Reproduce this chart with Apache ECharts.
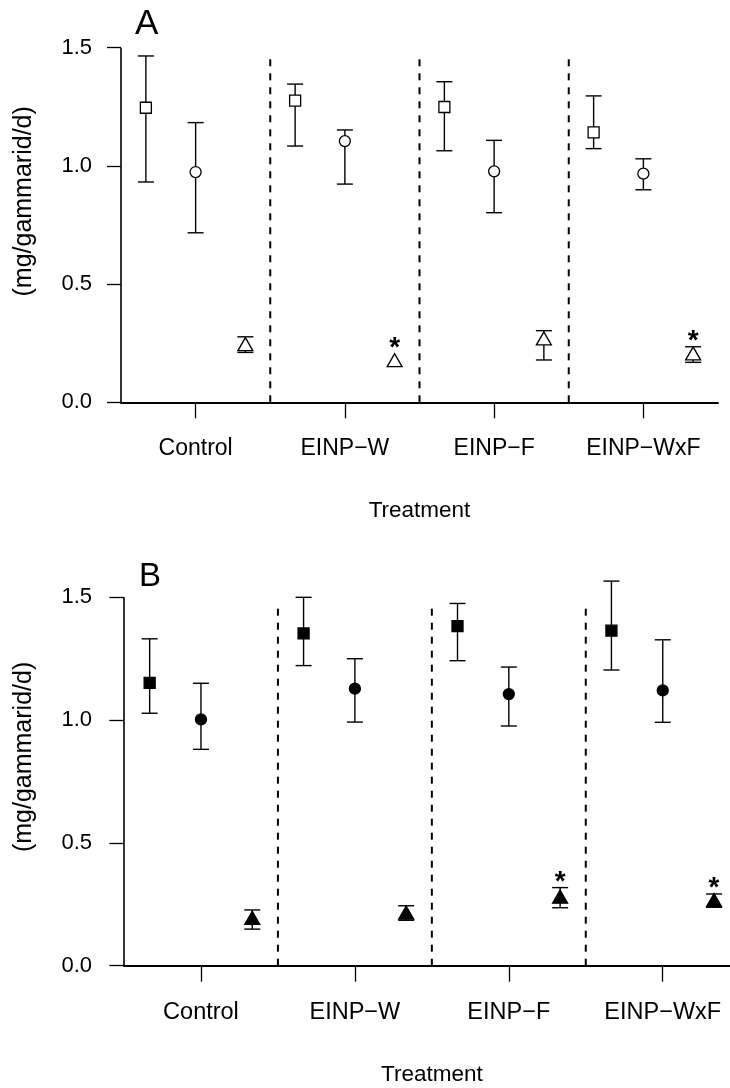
<!DOCTYPE html>
<html>
<head>
<meta charset="utf-8">
<title>Treatment effects</title>
<script src="https://cdn.jsdelivr.net/npm/echarts@6/dist/echarts.min.js"></script>
<style>
  html, body { margin: 0; padding: 0; background: #fff; }
  #chart { width: 730px; height: 1088px; }
</style>
</head>
<body>
<div id="chart"></div>
<script>
// ---- data ----
const treatments = ['Control', 'EINP\u2212W', 'EINP\u2212F', 'EINP\u2212WxF'];
const yTicks = [0, 0.5, 1.0, 1.5];

// Panel A (open symbols): mean with lower / upper error limits
const aSquareMean = [1.246, 1.276, 1.249, 1.142];
const aSquareLow  = [0.932, 1.084, 1.064, 1.073];
const aSquareHigh = [1.465, 1.346, 1.356, 1.296];
const aCircleMean = [0.974, 1.105, 0.977, 0.967];
const aCircleLow  = [0.717, 0.923, 0.802, 0.899];
const aCircleHigh = [1.183, 1.152, 1.108, 1.030];
const aTriMean    = [0.246, 0.178, 0.270, 0.207];
const aTriLow     = [0.211, 0.178, 0.179, 0.169];
const aTriHigh    = [0.277, 0.178, 0.303, 0.235];
const aSignificant = [false, true, false, true];

// Panel B (filled symbols)
const bSquareMean = [1.152, 1.353, 1.383, 1.364];
const bSquareLow  = [1.028, 1.222, 1.242, 1.204];
const bSquareHigh = [1.331, 1.500, 1.475, 1.566];
const bCircleMean = [1.003, 1.128, 1.106, 1.121];
const bCircleLow  = [0.881, 0.992, 0.976, 0.991];
const bCircleHigh = [1.150, 1.250, 1.216, 1.327];
const bTriMean    = [0.195, 0.216, 0.281, 0.267];
const bTriLow     = [0.149, 0.185, 0.236, 0.238];
const bTriHigh    = [0.227, 0.244, 0.318, 0.292];
const bSignificant = [false, false, true, true];

// ---- layout helpers ----
const FONT = '"Liberation Sans", Arial, Helvetica, sans-serif';
const INK = '#000';
const slotOffset = [-1 / 3, 0, 1 / 3];   // three measures within each treatment band
const yMax = 1.7;
const dividerTop = 1.475;

function xPos(group, slot) { return group + 0.5 + slotOffset[slot]; }

function errData(mean, low, high, slot) {
  return mean.map((m, i) => [xPos(i, slot), low[i], high[i], m]);
}
function ptData(mean, slot) {
  return mean.map((m, i) => [xPos(i, slot), m]);
}

function renderErrorBar(params, api) {
  const x = api.value(0);
  const lo = api.coord([x, api.value(1)]);
  const hi = api.coord([x, api.value(2)]);
  // zero-length intervals are not drawn
  if (Math.abs(lo[1] - hi[1]) < 1) return null;
  const half = 8;
  const st = { stroke: INK, lineWidth: 1.4, fill: null };
  return {
    type: 'group',
    children: [
      { type: 'line', shape: { x1: lo[0], y1: lo[1], x2: hi[0], y2: hi[1] }, style: st },
      { type: 'line', shape: { x1: lo[0] - half, y1: lo[1], x2: lo[0] + half, y2: lo[1] }, style: st },
      { type: 'line', shape: { x1: hi[0] - half, y1: hi[1], x2: hi[0] + half, y2: hi[1] }, style: st }
    ]
  };
}

function renderStar(params, api) {
  const x = api.value(0);
  const c = api.coord([x, api.value(1)]);
  const hi = api.coord([x, api.value(2)]);
  const fs = 28;
  const inkCenter = Math.min(hi[1], c[1] - 7) - 11;
  return {
    type: 'text',
    style: {
      text: '*', x: c[0], y: inkCenter + 0.22 * fs,
      align: 'center', verticalAlign: 'middle',
      fontSize: fs, fontWeight: 'bold', fontFamily: FONT, fill: INK
    }
  };
}

function renderDivider(params, api) {
  const b = api.value(0);
  const p0 = api.coord([b, 0]);
  const p1 = api.coord([b, dividerTop]);
  return {
    type: 'line',
    shape: { x1: p0[0], y1: p0[1], x2: p1[0], y2: p1[1] },
    style: { stroke: INK, lineWidth: 2, lineDash: [7, 7], fill: null }
  };
}

function renderYAxisLine(params, api) {
  const p0 = api.coord([0, api.value(0)]);
  const p1 = api.coord([0, api.value(1)]);
  return {
    type: 'line',
    shape: { x1: p0[0], y1: p0[1], x2: p1[0], y2: p1[1] },
    style: { stroke: INK, lineWidth: 1.6, fill: null }
  };
}

function makeXAxis(gridIndex, nameGap, labelSize) {
  const centers = treatments.map((t, i) => i + 0.5);
  return {
    gridIndex, type: 'value', min: 0, max: treatments.length,
    name: 'Treatment', nameLocation: 'middle', nameGap,
    nameTextStyle: { fontSize: 22.5, fontFamily: FONT, color: INK },
    axisLine: { show: true, onZero: false, lineStyle: { color: INK, width: 2 } },
    axisTick: { show: true, customValues: centers, length: 16, lineStyle: { color: INK, width: 1.3 } },
    axisLabel: {
      show: true, customValues: centers, margin: 35,
      fontSize: labelSize, fontFamily: FONT, color: INK,
      formatter: v => treatments[Math.round(v - 0.5)]
    },
    splitLine: { show: false }
  };
}

function makeYAxis(gridIndex, nameGap, margin, tickLen) {
  return {
    gridIndex, type: 'value', min: 0, max: yMax,
    name: '(mg/gammarid/d)', nameLocation: 'middle', nameGap,
    nameTextStyle: { fontSize: 25, fontFamily: FONT, color: INK },
    axisLine: { show: false },
    axisTick: { show: true, customValues: yTicks, length: tickLen, lineStyle: { color: INK, width: 1.3 } },
    axisLabel: {
      show: true, customValues: yTicks, margin,
      fontSize: 22, fontFamily: FONT, color: INK,
      formatter: v => v.toFixed(1)
    },
    splitLine: { show: false }
  };
}

function panelSeries(idx, sq, ci, tr, sig, filled) {
  const fill = filled ? INK : '#fff';
  const markerStyle = { color: fill, borderColor: INK, borderWidth: 1.3, opacity: 1 };
  const base = { xAxisIndex: idx, yAxisIndex: idx, silent: true, animation: false };
  const stars = tr[0].map((m, i) => [xPos(i, 2), m, tr[2][i]]).filter((d, i) => sig[i]);
  return [
    Object.assign({ type: 'custom', renderItem: renderDivider, data: [[1], [2], [3]], z: 1 }, base),
    Object.assign({ type: 'custom', renderItem: renderYAxisLine, data: [[yTicks[0], yTicks[yTicks.length - 1]]], z: 1 }, base),
    Object.assign({ type: 'custom', renderItem: renderErrorBar, data: errData(sq[0], sq[1], sq[2], 0), z: 2 }, base),
    Object.assign({ type: 'custom', renderItem: renderErrorBar, data: errData(ci[0], ci[1], ci[2], 1), z: 2 }, base),
    Object.assign({ type: 'custom', renderItem: renderErrorBar, data: errData(tr[0], tr[1], tr[2], 2), z: 2 }, base),
    Object.assign({ type: 'scatter', symbol: 'rect', symbolSize: 11, data: ptData(sq[0], 0), itemStyle: markerStyle, z: 3 }, base),
    Object.assign({ type: 'scatter', symbol: 'circle', symbolSize: 11, data: ptData(ci[0], 1), itemStyle: markerStyle, z: 3 }, base),
    Object.assign({ type: 'scatter', symbol: 'triangle', symbolSize: [15, 13], data: ptData(tr[0], 2), itemStyle: markerStyle, z: 3 }, base),
    Object.assign({ type: 'custom', renderItem: renderStar, data: stars, z: 4 }, base)
  ];
}

const chart = echarts.init(document.getElementById('chart'), null, { renderer: 'canvas' });
chart.setOption({
  animation: false,
  backgroundColor: '#fff',
  title: [
    { text: 'A', left: 135, top: 7, padding: 0, textStyle: { fontSize: 35, fontWeight: 'normal', fontFamily: FONT, color: INK } },
    { text: 'B', left: 139, top: 560, padding: 0, textStyle: { fontSize: 33, fontWeight: 'normal', fontFamily: FONT, color: INK } }
  ],
  grid: [
    { left: 121, width: 597, top: 0.4, height: 401.9, containLabel: false, outerBoundsMode: 'none' },
    { left: 124, width: 615.7, top: 548.2, height: 417.5, containLabel: false, outerBoundsMode: 'none' }
  ],
  xAxis: [makeXAxis(0, 96.5, 23), makeXAxis(1, 98, 23.5)],
  yAxis: [makeYAxis(0, 84.5, 29, 14), makeYAxis(1, 87.5, 32, 14.7)],
  series: [
    ...panelSeries(0,
      [aSquareMean, aSquareLow, aSquareHigh],
      [aCircleMean, aCircleLow, aCircleHigh],
      [aTriMean, aTriLow, aTriHigh], aSignificant, false),
    ...panelSeries(1,
      [bSquareMean, bSquareLow, bSquareHigh],
      [bCircleMean, bCircleLow, bCircleHigh],
      [bTriMean, bTriLow, bTriHigh], bSignificant, true)
  ]
});
</script>
</body>
</html>
